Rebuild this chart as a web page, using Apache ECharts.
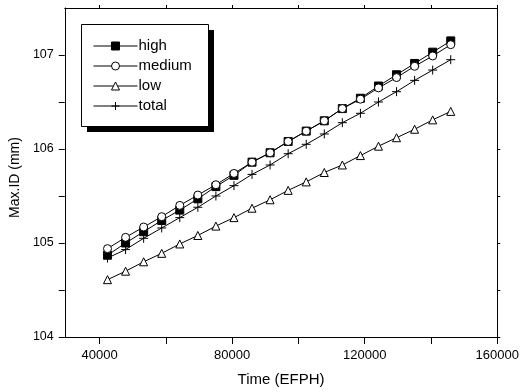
<!DOCTYPE html>
<html>
<head>
<meta charset="utf-8">
<script src="https://cdn.jsdelivr.net/npm/echarts@6/dist/echarts.min.js"></script>
<style>
html,body{margin:0;padding:0;background:#fff;}
#chart{width:522px;height:392px;}
</style>
</head>
<body>
<div id="chart"></div>
<script>
var xValues = [42400, 47850, 53300, 58750, 64200, 69650, 75100, 80550, 86000, 91450, 96900, 102350, 107800, 113250, 118700, 124150, 129600, 135050, 140500, 145950];
var high   = [104.87, 105.00, 105.12, 105.24, 105.35, 105.47, 105.60, 105.72, 105.86, 105.96, 106.08, 106.19, 106.30, 106.43, 106.54, 106.67, 106.79, 106.91, 107.03, 107.15];
var medium = [104.94, 105.06, 105.17, 105.28, 105.40, 105.51, 105.62, 105.74, 105.86, 105.96, 106.08, 106.19, 106.30, 106.43, 106.53, 106.65, 106.76, 106.88, 106.99, 107.11];
var low    = [104.61, 104.70, 104.80, 104.89, 104.99, 105.08, 105.18, 105.27, 105.37, 105.46, 105.56, 105.65, 105.75, 105.83, 105.93, 106.03, 106.12, 106.21, 106.31, 106.40];
var total  = [104.84, 104.93, 105.05, 105.16, 105.27, 105.38, 105.50, 105.61, 105.73, 105.83, 105.95, 106.05, 106.16, 106.28, 106.38, 106.50, 106.61, 106.73, 106.84, 106.95];
var xTickLabels = [40000, 80000, 120000, 160000];
var xTicks = [40000, 60000, 80000, 100000, 120000, 140000, 160000];
var yTickLabels = [104, 105, 106, 107];
var yTicks = [104, 104.5, 105, 105.5, 106, 106.5, 107];

var FONT = "'Liberation Sans', Arial, sans-serif";
function pairs(ys){ return xValues.map(function(x,i){ return [x, ys[i]]; }); }
var plus = 'path://M5,0V10M0,5H10';

function mkSeries(name, ys, symbol, fill, size){
  return {
    name: name, type: 'line', data: pairs(ys), symbol: symbol, symbolSize: size,
    showAllSymbol: true, animation: false,
    lineStyle: {color: '#000', width: 1},
    itemStyle: {color: fill, borderColor: '#000', borderWidth: 1},
    emphasis: {disabled: true}
  };
}

var chart = echarts.init(document.getElementById('chart'), null, {renderer: 'canvas'});
chart.setOption({
  animation: false,
  backgroundColor: '#fff',
  textStyle: {fontFamily: FONT},
  grid: {left: 64, right: 19, top: 8, bottom: 54, containLabel: false},
  graphic: [
    {type: 'rect', z: 1, silent: true, shape: {x: 87, y: 30, width: 127, height: 102}, style: {fill: '#000'}},
    {type: 'rect', z: 2, silent: true, shape: {x: 81.5, y: 24.5, width: 127, height: 102}, style: {fill: '#fff', stroke: '#000', lineWidth: 1}}
  ],
  legend: {
    left: 81, top: 24, orient: 'vertical',
    padding: [14, 13, 11, 12],
    itemWidth: 44, itemHeight: 10, itemGap: 4,
    z: 5,
    lineStyle: {width: 1},
    itemStyle: {borderWidth: 1},
    textStyle: {fontFamily: FONT, fontSize: 15, color: '#000', lineHeight: 16, padding: [0, 0, 0, -4]},
    data: ['high', 'medium', 'low', 'total']
  },
  xAxis: [{
    type: 'value', min: 29500, max: 160000, position: 'bottom',
    name: 'Time (EFPH)', nameLocation: 'middle', nameGap: 35,
    nameTextStyle: {fontFamily: FONT, fontSize: 15, color: '#000'},
    axisLine: {show: true, onZero: false, lineStyle: {color: '#000', width: 1}},
    axisTick: {show: true, inside: false, length: 7, customValues: xTicks, lineStyle: {color: '#000'}},
    axisLabel: {show: true, customValues: xTickLabels, margin: 12, fontFamily: FONT, fontSize: 13, color: '#000',
      formatter: function(v){ return String(v); }},
    splitLine: {show: false}
  }, {
    type: 'value', min: 29500, max: 160000, position: 'top',
    axisLine: {show: true, onZero: false, lineStyle: {color: '#000', width: 1}},
    axisTick: {show: true, inside: false, length: 3, customValues: xTicks, lineStyle: {color: '#000'}},
    axisLabel: {show: false},
    splitLine: {show: false}
  }],
  yAxis: [{
    type: 'value', min: 104, max: 107.5, position: 'left',
    name: 'Max.ID (mm)', nameLocation: 'middle', nameGap: 39,
    nameTextStyle: {fontFamily: FONT, fontSize: 14, color: '#000', padding: [0, 10, 0, 0]},
    axisLine: {show: true, onZero: false, lineStyle: {color: '#000', width: 1}},
    axisTick: {show: true, inside: false, length: 6, customValues: yTicks, lineStyle: {color: '#000'}},
    axisLabel: {show: true, customValues: yTickLabels, margin: 11, fontFamily: FONT, fontSize: 12.5, color: '#000',
      formatter: function(v){ return String(v); }},
    splitLine: {show: false}
  }, {
    type: 'value', min: 104, max: 107.5, position: 'right',
    axisLine: {show: true, onZero: false, lineStyle: {color: '#000', width: 1}},
    axisTick: {show: true, inside: false, length: 3, customValues: yTicks, lineStyle: {color: '#000'}},
    axisLabel: {show: false},
    splitLine: {show: false}
  }],
  series: [
    mkSeries('high', high, 'rect', '#000', 8),
    mkSeries('medium', medium, 'circle', '#fff', 8),
    mkSeries('low', low, 'triangle', '#fff', 8),
    mkSeries('total', total, plus, '#000', 9)
  ]
});
</script>
</body>
</html>
